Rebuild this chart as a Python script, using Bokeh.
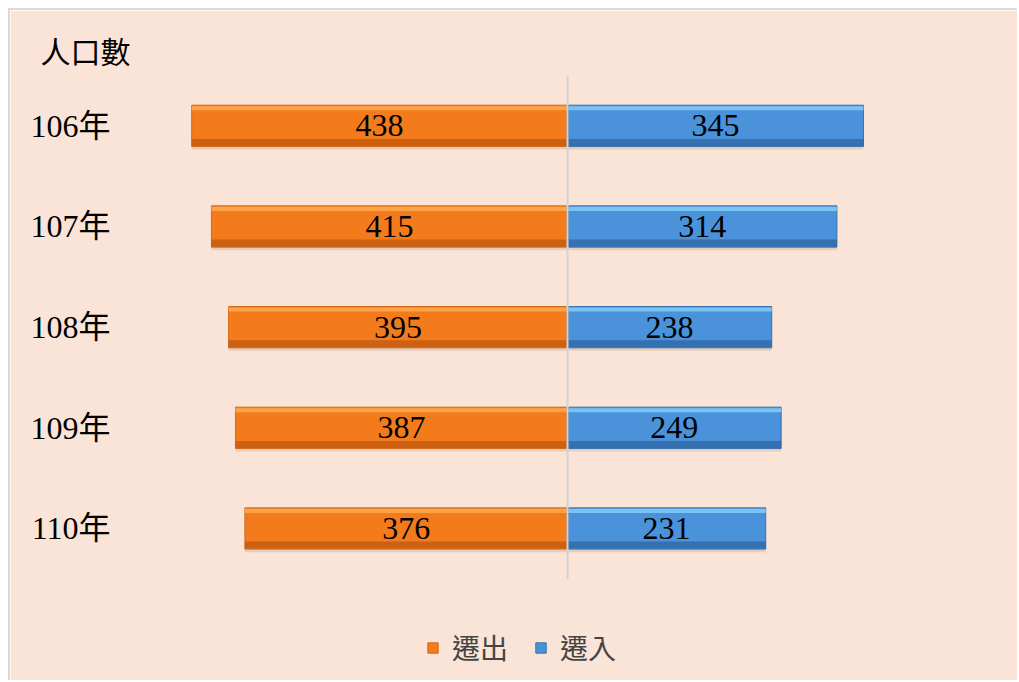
from bokeh.plotting import figure
from bokeh.models import ColumnDataSource, Range1d, Legend, LegendItem, FixedTicker
from bokeh.transform import dodge
from bokeh.core.properties import value
from bokeh.embed import file_html
from bokeh.resources import INLINE

# ---- data ----
years = ["106年", "107年", "108年", "109年", "110年"]
out_vals = [438, 415, 395, 387, 376]   # 遷出
in_vals = [345, 314, 238, 249, 231]    # 遷入
series_names = ["遷出", "遷入"]
title_text = "人口數"

BG = "#FAE4D7"
SERIF = "'Liberation Serif', 'Noto Sans CJK TC'"
CJK = "'Noto Sans CJK TC'"

n = len(years)
ypos = [n - 1 - i for i in range(n)]   # first year at the top

src = ColumnDataSource(dict(
    year=years,
    ypos=ypos,
    out_left=[-v for v in out_vals],
    out_mid=[-v / 2 for v in out_vals],
    out_lab=[str(v) for v in out_vals],
    in_right=in_vals,
    in_mid=[v / 2 for v in in_vals],
    in_lab=[str(v) for v in in_vals],
))

p = figure(
    width=1009, height=672,
    y_range=Range1d(-1.53, n - 0.5),
    x_range=(-521, 493),
    output_backend="svg", toolbar_location=None,
    min_border_left=110, min_border_right=29,
    min_border_top=65, min_border_bottom=0,
    background_fill_color=BG, border_fill_color=BG,
)
p.margin = (8, 0, 0, 8)
p.styles = {"border-top": "2px solid #DADADA", "border-left": "2px solid #DADADA"}

p.outline_line_color = BG
p.outline_line_width = 2
p.xgrid.visible = False
p.ygrid.visible = False
p.xaxis.visible = False

ya = p.yaxis[0]
ya.ticker = FixedTicker(ticks=ypos)
ya.major_label_overrides = {yp: yr for yp, yr in zip(ypos, years)}
ya.axis_line_color = None
ya.major_tick_line_color = None
ya.minor_tick_line_color = None
ya.major_tick_out = 0
ya.major_label_standoff = 10
ya.major_label_text_font = SERIF
ya.major_label_text_font_size = "32px"
ya.major_label_text_color = "#000000"

# title
p.title.text = title_text
p.title.text_font = CJK
p.title.text_font_size = "30px"
p.title.text_font_style = "normal"
p.title.text_color = "#000000"
p.title.align = "left"
p.title.offset = -80
p.title.standoff = 8

H = 0.41
# shadows
p.hbar(y=dodge("ypos", -0.03), left="out_left", right=0, height=H,
       source=src, fill_color="#7a5a40", fill_alpha=0.16, line_color=None)
p.hbar(y=dodge("ypos", -0.03), left=0, right="in_right", height=H,
       source=src, fill_color="#7a5a40", fill_alpha=0.16, line_color=None)

# main bars
r_out = p.hbar(y="ypos", left="out_left", right=-1, height=H, source=src,
               fill_color="#F47B1C", line_color="#D2691A", line_width=1)
r_in = p.hbar(y="ypos", left=1, right="in_right", height=H, source=src,
              fill_color="#4A92DA", line_color="#3A72AE", line_width=1)

# bevel highlight (top) and shade (bottom)
p.hbar(y=dodge("ypos", 0.175), left="out_left", right=-1, height=0.04,
       source=src, fill_color="#FFAA50", fill_alpha=0.85, line_color=None)
p.hbar(y=dodge("ypos", -0.165), left="out_left", right=-1, height=0.07,
       source=src, fill_color="#C25A12", fill_alpha=0.8, line_color=None)
p.hbar(y=dodge("ypos", 0.175), left=1, right="in_right", height=0.04,
       source=src, fill_color="#82CDF7", fill_alpha=0.85, line_color=None)
p.hbar(y=dodge("ypos", -0.165), left=1, right="in_right", height=0.07,
       source=src, fill_color="#2F68A6", fill_alpha=0.8, line_color=None)

# centre line spanning the category band
p.segment(x0=[0], x1=[0], y0=[-0.5], y1=[n - 0.5], line_color="#D3D3D3", line_width=2)

# value labels
p.text(x="out_mid", y="ypos", text="out_lab", source=src, text_align="center",
       text_baseline="middle", text_font=value(SERIF), text_font_size="32px",
       text_color="#000000")
p.text(x="in_mid", y="ypos", text="in_lab", source=src, text_align="center",
       text_baseline="middle", text_font=value(SERIF), text_font_size="32px",
       text_color="#000000")

legend = Legend(
    items=[LegendItem(label=series_names[0], renderers=[r_out]),
           LegendItem(label=series_names[1], renderers=[r_in])],
    orientation="horizontal",
    location=(306, 15),
    background_fill_alpha=0, border_line_color=None,
    label_text_font=CJK, label_text_font_size="28px",
    glyph_width=13, glyph_height=13, label_standoff=13, spacing=26,
    padding=6, margin=0,
)
p.add_layout(legend, "center")

open("out.html", "w").write(file_html(p, INLINE))
